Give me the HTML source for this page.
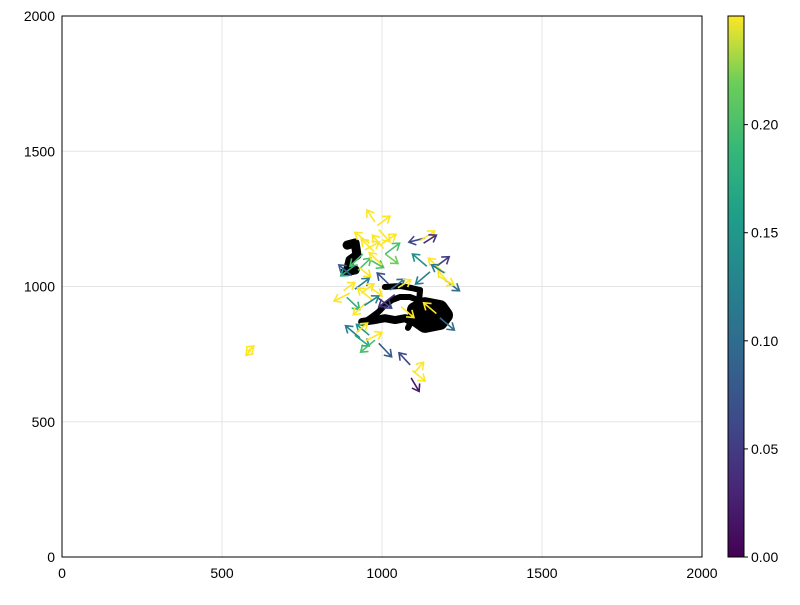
<!DOCTYPE html>
<html><head><meta charset="utf-8">
<style>
body{margin:0;background:#fff;}
svg text{font-family:"Liberation Sans",sans-serif;font-size:14px;fill:#000;}
</style></head>
<body>
<svg id="chart" width="800" height="600" xmlns="http://www.w3.org/2000/svg">
<defs>
<linearGradient id="vir" x1="0" y1="1" x2="0" y2="0">
<stop offset="0" stop-color="#440154"/><stop offset="0.13" stop-color="#482878"/><stop offset="0.25" stop-color="#3e4a89"/><stop offset="0.38" stop-color="#31688e"/><stop offset="0.5" stop-color="#26828e"/><stop offset="0.63" stop-color="#1f9e89"/><stop offset="0.75" stop-color="#35b779"/><stop offset="0.88" stop-color="#6ece58"/><stop offset="1" stop-color="#fde725"/>
</linearGradient>
</defs>
<g id="grid"></g>
<g id="marks"></g>
<rect x="62" y="16" width="640" height="541" fill="none" stroke="#000" stroke-width="1"/>
<g id="axes"></g>
<rect x="728" y="16" width="16" height="541" fill="url(#vir)" stroke="#000" stroke-width="1"/>
<g id="cbticks"></g>
</svg>
<script>
const xTicks=[0,500,1000,1500,2000];
const yTicks=[0,500,1000,1500,2000];
const cTicks=[0,0.05,0.10,0.15,0.20];
const cTickLabels=["0.00","0.05","0.10","0.15","0.20"];
const cMax=0.25;
// arrows: position, vector (data units), colour value
const ax=[978,990,985,960,947,940,994,1005,1010,960,975,916,925,905,930,1134,1120,1130,1150,1165,1185,1197,1210,1140,1175,1195,900,915,890,880,969,985,950,935,1025,1040,1050,931,915,950,978,990,960,920,1088,1095,1091,1100,580,590,1181,1170,1000,1010,960,1020,945,1060];
const ay=[1238,1210,1225,1160,1135,1120,1153,1140,1120,1100,1130,1079,1060,1040,1070,1179,1170,1160,1054,1070,1060,1024,1010,1075,1040,1050,976,990,960,985,950,960,940,975,987,970,995,810,820,800,802,790,820,830,710,690,662,680,760,765,884,900,1080,1120,1000,1010,930,925];
const au=[-25,35,40,-45,45,-40,50,-35,40,45,-40,-45,40,-40,35,-50,45,40,-45,45,-40,45,-35,-45,50,-40,-50,45,40,35,-45,45,-40,40,45,-50,40,-45,45,50,-45,40,-40,35,-35,40,25,30,20,-15,45,-40,-40,45,40,-35,45,40];
const av=[45,-45,35,40,30,-45,40,50,-35,-30,45,-40,45,40,-35,-15,35,30,-45,40,45,-40,50,45,-35,30,-30,40,-45,30,45,-40,-45,35,40,-45,30,45,-40,30,-45,-50,40,35,45,-40,-50,40,20,-20,-45,40,45,40,-35,40,35,-40];
const ac=[0.25,0.25,0.25,0.25,0.25,0.2,0.25,0.25,0.22,0.2,0.25,0.17,0.2,0.08,0.25,0.06,0.25,0.04,0.12,0.05,0.25,0.1,0.25,0.14,0.25,0.12,0.25,0.12,0.18,0.25,0.25,0.06,0.25,0.25,0.1,0.04,0.25,0.12,0.17,0.25,0.2,0.08,0.15,0.25,0.06,0.25,0.02,0.25,0.25,0.25,0.1,0.25,0.25,0.2,0.25,0.07,0.13,0.25];
// trajectories
const pathsX=[[941,963,988,1009,1031,1056,1088,1113],[1009,1056,1094,1119,1116,1106,1094,1081],[938,978,1009,1041,1072,1094],[1103,1134,1181,1197,1181,1134,1103,1150],[891,916,922,900,894,916,884]];
const pathsY=[[865,883,905,931,950,961,961,950],[998,1002,994,987,950,913,876,847],[869,876,883,876,883,869],[913,931,920,894,869,858,884,900],[1153,1161,1116,1098,1068,1061,1054]];
const pathsW=[6,6,8,16,9];

const NS="http://www.w3.org/2000/svg";
const X=v=>62+v*640/2000, Y=v=>557-v*541/2000, CY=v=>557-v*541/cMax*0.999;
function el(t,a,p){const e=document.createElementNS(NS,t);for(const k in a)e.setAttribute(k,a[k]);p.appendChild(e);return e;}
const stops=[[0,[68,1,84]],[0.13,[72,40,120]],[0.25,[62,74,137]],[0.38,[49,104,142]],[0.5,[38,130,142]],[0.63,[31,158,137]],[0.75,[53,183,121]],[0.88,[110,206,88]],[1,[253,231,37]]];
function vir(t){t=Math.max(0,Math.min(1,t));for(let i=1;i<stops.length;i++){if(t<=stops[i][0]){const a=stops[i-1],b=stops[i],f=(t-a[0])/(b[0]-a[0]);return 'rgb('+a[1].map((c,j)=>Math.round(c+(b[1][j]-c)*f)).join(',')+')';}}return 'rgb(253,231,37)';}
const grid=document.getElementById('grid'),axes=document.getElementById('axes'),marks=document.getElementById('marks'),cb=document.getElementById('cbticks');
xTicks.forEach(t=>{
 const g=el('line',{x1:X(t),x2:X(t),y1:16,y2:557,stroke:'#e5e5e5','stroke-width':1},grid);
 
 
 const tx=el('text',{x:X(t),y:578,'text-anchor':'middle'},axes);tx.textContent=t;
 
 
});
yTicks.forEach(t=>{
 const g=el('line',{x1:62,x2:702,y1:Y(t),y2:Y(t),stroke:'#e5e5e5','stroke-width':1},grid);
 
 
 const tx=el('text',{x:55,y:Y(t)+5,'text-anchor':'end'},axes);tx.textContent=t;
 
 
});
cTicks.forEach((t,i)=>{
 const l=el('line',{x1:744,x2:748,y1:CY(t),y2:CY(t),stroke:'#000'},cb);
 
 
 const tx=el('text',{x:751,y:CY(t)+5},cb);tx.textContent=cTickLabels[i];
 
 
});
pathsX.forEach((px,i)=>{
 const pts=px.map((x,j)=>X(x)+','+Y(pathsY[i][j])).join(' ');
 const p=el('polyline',{points:pts,fill:'none',stroke:'#000','stroke-width':pathsW[i],'stroke-linejoin':'round','stroke-linecap':'round'},marks);
 
 
});
ax.forEach((x,i)=>{
 const x1=X(x),y1=Y(ay[i]),x2=X(x+au[i]),y2=Y(ay[i]+av[i]);
 const ang=Math.atan2(y2-y1,x2-x1),h=8,c=vir(ac[i]/cMax);
 const d=`M${x1},${y1}L${x2},${y2}M${x2-h*Math.cos(ang-0.6)},${y2-h*Math.sin(ang-0.6)}L${x2},${y2}L${x2-h*Math.cos(ang+0.6)},${y2-h*Math.sin(ang+0.6)}`;
 const a=el('path',{d:d,fill:'none',stroke:c,'stroke-width':1.6},marks);
 
 
});
</script>
</body></html>
